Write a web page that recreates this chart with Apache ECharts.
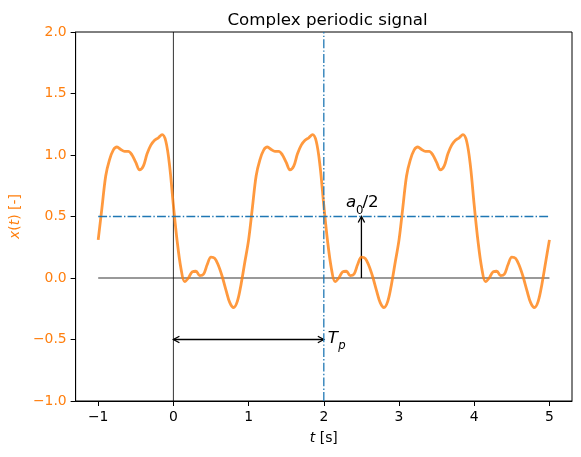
<!DOCTYPE html>
<html><head><meta charset="utf-8">
<script src="https://cdn.jsdelivr.net/npm/echarts@6/dist/echarts.min.js"></script>
<style>html,body{margin:0;padding:0;background:#fff}#c{width:581px;height:457px}</style>
</head><body><div id="c"></div>
<script>
// sample times (s)
const times = [-1.00,-0.95,-0.90,-0.85,-0.80,-0.75,-0.70,-0.65,-0.60,-0.55,-0.50,-0.45,-0.40,-0.35,-0.30,-0.25,-0.20,-0.15,-0.10,-0.05,
 0.00,0.05,0.10,0.15,0.20,0.25,0.30,0.35,0.40,0.45,0.50,0.55,0.60,0.65,0.70,0.75,0.80,0.85,0.90,0.95,
 1.00,1.05,1.10,1.15,1.20,1.25,1.30,1.35,1.40,1.45,1.50,1.55,1.60,1.65,1.70,1.75,1.80,1.85,1.90,1.95,
 2.00,2.05,2.10,2.15,2.20,2.25,2.30,2.35,2.40,2.45,2.50,2.55,2.60,2.65,2.70,2.75,2.80,2.85,2.90,2.95,
 3.00,3.05,3.10,3.15,3.20,3.25,3.30,3.35,3.40,3.45,3.50,3.55,3.60,3.65,3.70,3.75,3.80,3.85,3.90,3.95,
 4.00,4.05,4.10,4.15,4.20,4.25,4.30,4.35,4.40,4.45,4.50,4.55,4.60,4.65,4.70,4.75,4.80,4.85,4.90,4.95,5.00];
// signal values x(t)
const signal = [0.31,0.57,0.83,0.96,1.04,1.065,1.045,1.03,1.03,1.00,0.94,0.88,0.91,1.01,1.08,1.12,1.14,1.165,1.11,0.91,
 0.59,0.30,0.08,-0.03,0.00,0.05,0.055,0.02,0.03,0.11,0.17,0.16,0.10,0.01,-0.10,-0.20,-0.24,-0.19,-0.05,0.13,
 0.31,0.57,0.83,0.96,1.04,1.065,1.045,1.03,1.03,1.00,0.94,0.88,0.91,1.01,1.08,1.12,1.14,1.165,1.11,0.91,
 0.59,0.30,0.08,-0.03,0.00,0.05,0.055,0.02,0.03,0.11,0.17,0.16,0.10,0.01,-0.10,-0.20,-0.24,-0.19,-0.05,0.13,
 0.31,0.57,0.83,0.96,1.04,1.065,1.045,1.03,1.03,1.00,0.94,0.88,0.91,1.01,1.08,1.12,1.14,1.165,1.11,0.91,
 0.59,0.30,0.08,-0.03,0.00,0.05,0.055,0.02,0.03,0.11,0.17,0.16,0.10,0.01,-0.10,-0.20,-0.24,-0.19,-0.05,0.13,0.31];
const xTicks = [-1,0,1,2,3,4,5];
const tStart = -1, tEnd = 5;
const meanLevel = 0.5;      // a0/2
const period = 2;           // Tp
const meanArrowT = 2.5;
const periodArrowY = -0.5;

const F = 'DejaVu Sans';
const fmt = v => (v < 0 ? '\u2212' : '') + Math.abs(v);
const fmtY = v => (v < 0 ? '\u2212' : '') + Math.abs(v).toFixed(1);

const chart = echarts.init(document.getElementById('c'), null, {renderer: 'canvas'});

function arrowHead(p, q, len, hw) {
  const dx = p[0] - q[0], dy = p[1] - q[1];
  const L = Math.hypot(dx, dy) || 1;
  const ux = dx / L, uy = dy / L;
  const bx = p[0] - ux * len, by = p[1] - uy * len;
  return [[bx - uy * hw, by + ux * hw], p, [bx + uy * hw, by - ux * hw]];
}

const arrows = [
  [meanArrowT, 0, meanArrowT, meanLevel, 0, 1],
  [0, periodArrowY, period, periodArrowY, 1, 1]
];

const option = {
  animation: false,
  backgroundColor: '#fff',
  title: {
    text: 'Complex periodic signal', left: 322.5, top: 7, textAlign: 'center',
    textStyle: {fontFamily: F, fontSize: 16.7, fontWeight: 'normal', color: '#000'}
  },
  grid: {left: 75, right: 9, top: 32, bottom: 56, show: true, borderColor: '#000', borderWidth: 1, backgroundColor: 'transparent'},
  xAxis: {
    type: 'value', min: -1.3, max: 5.3,
    name: '{i|t} [s]', nameLocation: 'middle', nameGap: 30,
    nameTextStyle: {fontFamily: F, fontSize: 13.9, color: '#000',
      rich: {i: {fontFamily: F, fontStyle: 'italic', fontSize: 13.9, color: '#000'}}},
    axisLine: {show: true, onZero: false, lineStyle: {color: '#000', width: 1}},
    axisTick: {show: true, length: 5, customValues: xTicks, lineStyle: {color: '#000', width: 1}},
    axisLabel: {customValues: xTicks, formatter: fmt, fontFamily: F, fontSize: 13.9, color: '#000', margin: 9},
    splitLine: {show: false}
  },
  yAxis: {
    type: 'value', min: -1, max: 2, interval: 0.5,
    name: '{i|x}({i|t}) [-]', nameLocation: 'middle', nameGap: 52, nameRotate: 90,
    nameTextStyle: {fontFamily: F, fontSize: 13.9, color: '#ff7f0e',
      rich: {i: {fontFamily: F, fontStyle: 'italic', fontSize: 13.9, color: '#ff7f0e'}}},
    axisLine: {show: true, onZero: false, lineStyle: {color: '#000', width: 1}},
    axisTick: {show: true, length: 5, lineStyle: {color: '#000', width: 1}},
    axisLabel: {formatter: fmtY, fontFamily: F, fontSize: 13.9, color: '#ff7f0e', margin: 9},
    splitLine: {show: false}
  },
  series: [
    {type: 'line', data: [[tStart, 0], [tEnd, 0]], showSymbol: false, silent: true,
     lineStyle: {color: '#000', width: 1, opacity: 0.8}},
    {type: 'line', data: [[0, -1], [0, 2]], showSymbol: false, silent: true,
     lineStyle: {color: '#000', width: 1, opacity: 0.8}},
    {type: 'line', data: times.map((t, i) => [t, signal[i]]), showSymbol: false, smooth: 0.35,
     lineStyle: {color: '#ff7f0e', width: 2.8, opacity: 0.8}},
    {type: 'line', data: [[tStart, meanLevel], [tEnd, meanLevel]], showSymbol: false, silent: true,
     lineStyle: {color: '#1f77b4', width: 1.3, type: [8.9, 2.2, 1.4, 2.2]}},
    {type: 'line', data: [[period, -1], [period, 2]], showSymbol: false, silent: true,
     lineStyle: {color: '#1f77b4', width: 1.3, type: [8.9, 2.2, 1.4, 2.2]}},
    {type: 'custom', silent: true, data: arrows,
     renderItem: function (params, api) {
       const p1 = api.coord([api.value(0), api.value(1)]);
       const p2 = api.coord([api.value(2), api.value(3)]);
       const st = {stroke: '#000', lineWidth: 1.3, fill: null};
       const children = [{type: 'polyline', shape: {points: [p1, p2]}, style: st}];
       if (api.value(4)) children.push({type: 'polyline', shape: {points: arrowHead(p1, p2, 6, 3.2)}, style: st});
       if (api.value(5)) children.push({type: 'polyline', shape: {points: arrowHead(p2, p1, 6, 3.2)}, style: st});
       return {type: 'group', children};
     }},
    {type: 'custom', silent: true, data: [[meanArrowT, meanLevel]],
     renderItem: function (params, api) {
       const p = api.coord([api.value(0), api.value(1)]);
       const base = p[1] - 5;
       return {type: 'group', children: [
         {type: 'text', x: p[0] - 15.5, y: base, style: {text: 'a', font: 'italic 16.7px "DejaVu Sans"', fill: '#000', align: 'left', verticalAlign: 'bottom'}},
         {type: 'text', x: p[0] - 5.5, y: base + 5, style: {text: '0', font: '11.7px "DejaVu Sans"', fill: '#000', align: 'left', verticalAlign: 'bottom'}},
         {type: 'text', x: p[0] + 1, y: base, style: {text: '/2', font: '16.7px "DejaVu Sans"', fill: '#000', align: 'left', verticalAlign: 'bottom'}}
       ]};
     }},
    {type: 'custom', silent: true, data: [[period, periodArrowY]],
     renderItem: function (params, api) {
       const p = api.coord([api.value(0), api.value(1)]);
       const base = p[1] + 8;
       return {type: 'group', children: [
         {type: 'text', x: p[0] + 4, y: base, style: {text: 'T', font: 'italic 16.7px "DejaVu Sans"', fill: '#000', align: 'left', verticalAlign: 'bottom'}},
         {type: 'text', x: p[0] + 14.5, y: base + 4, style: {text: 'p', font: 'italic 11.7px "DejaVu Sans"', fill: '#000', align: 'left', verticalAlign: 'bottom'}}
       ]};
     }}
  ]
};
chart.setOption(option);
</script></body></html>
